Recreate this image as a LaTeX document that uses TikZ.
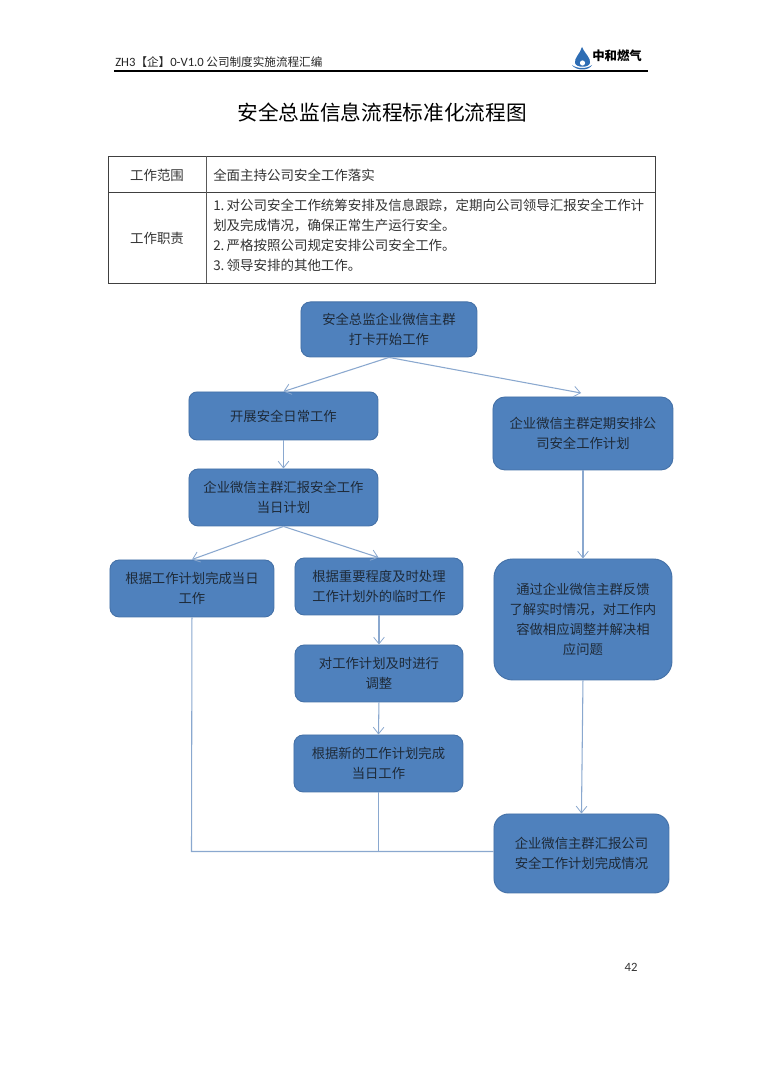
\documentclass[tikz,border=0pt]{standalone}
\usepackage{fontspec}
\setmainfont{Noto Sans CJK SC}
\newfontfamily\lat{Carlito}
\usetikzlibrary{arrows.meta}
\definecolor{boxfill}{HTML}{4F81BD}
\definecolor{boxline}{HTML}{4672A8}
\definecolor{conn}{HTML}{8AA8CF}
\definecolor{ink}{HTML}{1E2A38}
\definecolor{dropblue}{HTML}{2E6DB4}
\tikzset{x=0.75pt,y=-0.75pt,
 flow/.style={draw=boxline,fill=boxfill,line width=0.7pt,rounded corners=#1,align=center,font=\fontsize{10}{15}\selectfont,text=ink,anchor=north west,inner sep=0pt},
 flow/.default=7pt,
 arr/.style={draw=conn,line width=0.8pt,-{Straight Barb[length=5pt,width=8pt,line width=0.6pt]}},
 lin/.style={draw=conn,line width=0.8pt},
 cell/.style={font=\fontsize{10.1}{15}\selectfont,text=black!80,inner sep=0pt}}
\newcommand{\flowbox}[6][7pt]{\node[flow=#1,minimum width=#4*0.75pt,minimum height=#5*0.75pt] (#2) at (#3) {#6};}
\begin{document}
\begin{tikzpicture}
\useasboundingbox (0,0) rectangle (764,1080);
\fill[white] (0,0) rectangle (764,1080);
% header
\node[anchor=west,inner sep=0pt,font=\fontsize{8.7}{10}\selectfont,text=black!85] (hdr) at (115,62) {{\fontsize{9.5}{10}\selectfont\lat ZH3}【企】{\fontsize{9.5}{10}\selectfont\lat 0-V1.0} 公司制度实施流程汇编};
\coordinate (ruleL) at (114,71);
\coordinate (ruleR) at (648,71);
\draw[line width=1pt] (ruleL) -- (ruleR);
\fill[dropblue] (582,47) .. controls (585,54) and (591,58) .. (590,63) .. controls (589,68) and (576,68) .. (575,63) .. controls (574,58) and (580,54) .. (582,47) -- cycle;
\fill[white] (582.5,63) circle (2.6);
\fill[dropblue] (572,65) .. controls (577,69) and (587,69) .. (592,65) .. controls (589,71) and (576,71) .. (572,65) -- cycle;
\node[anchor=west,inner sep=0pt,font=\fontsize{9.3}{9}\selectfont\bfseries] (logo) at (592,56) {中和燃气};
% title
\node[inner sep=0pt,font=\fontsize{15.5}{18}\selectfont] (title) at (382,113) {安全总监信息流程标准化流程图};
% table
\draw[black!75,line width=0.7pt] (108.5,156.5) rectangle (655.5,283.5);
\draw[black!75,line width=0.7pt] (108.5,192.5) -- (655.5,192.5);
\draw[black!65,line width=0.9pt] (206.5,156.5) -- (206.5,283.5);
\node[cell] (c1) at (157,175) {工作范围};
\node[cell] (c2) at (157,238) {工作职责};
\node[cell,anchor=west] (c3) at (213,175) {全面主持公司安全工作落实};
\node[cell,anchor=north west,align=left] (c4) at (213,199) {1.\,对公司安全工作统筹安排及信息跟踪，定期向公司领导汇报安全工作计\\划及完成情况，确保正常生产运行安全。\\2.\,严格按照公司规定安排公司安全工作。\\3.\,领导安排的其他工作。};
% boxes
\flowbox{a}{300.5,301.5}{176}{55}{安全总监企业微信主群\\打卡开始工作}
\flowbox[6pt]{b}{188.5,391.5}{189}{48}{开展安全日常工作}
\flowbox[9pt]{r1}{492.5,396.5}{180}{73}{企业微信主群定期安排公\\司安全工作计划}
\flowbox{c}{188.5,468.5}{189}{57}{企业微信主群汇报安全工作\\当日计划}
\flowbox{d}{109.5,559.5}{164}{57}{根据工作计划完成当日\\工作}
\flowbox{e}{294.5,557.5}{168}{57}{根据重要程度及时处理\\工作计划外的临时工作}
\flowbox{f}{294.5,644.5}{168}{57}{对工作计划及时进行\\调整}
\flowbox{g}{293.5,734.5}{169}{57}{根据新的工作计划完成\\当日工作}
\flowbox[14pt]{r2}{493.5,558.5}{178}{121}{通过企业微信主群反馈\\了解实时情况，对工作内\\容做相应调整并解决相\\应问题}
\flowbox[11pt]{r3}{493.5,813.5}{175}{79}{企业微信主群汇报公司\\安全工作计划完成情况}
% connectors
\coordinate (j1) at (191.5,851.5);
\coordinate (t1) at (283.5,391.5);
\coordinate (t2) at (581,393);
\coordinate (t3) at (192,559.5);
\coordinate (t4) at (378.5,557.5);
\draw[arr] (a.south) -- (t1);
\draw[arr] (a.south) -- (t2);
\draw[arr] (b.south) -- (c.north);
\draw[arr] (c.south) -- (t3);
\draw[arr] (c.south) -- (t4);
\draw[arr] (e.south) -- (f.north);
\draw[arr] (f.south) -- (g.north);
\draw[arr] (r1.south) -- (r2.north);
\draw[arr] (r2.south) -- (r3.north);
\draw[lin] (d.south) -- (j1) -- (j1 -| r3.west);
\draw[lin] (g.south) -- (g.south |- j1);
% page number
\node[inner sep=0pt,font=\fontsize{9.5}{10}\selectfont\lat,text=black!80] (pn) at (631,967) {42};
\end{tikzpicture}
\end{document}
